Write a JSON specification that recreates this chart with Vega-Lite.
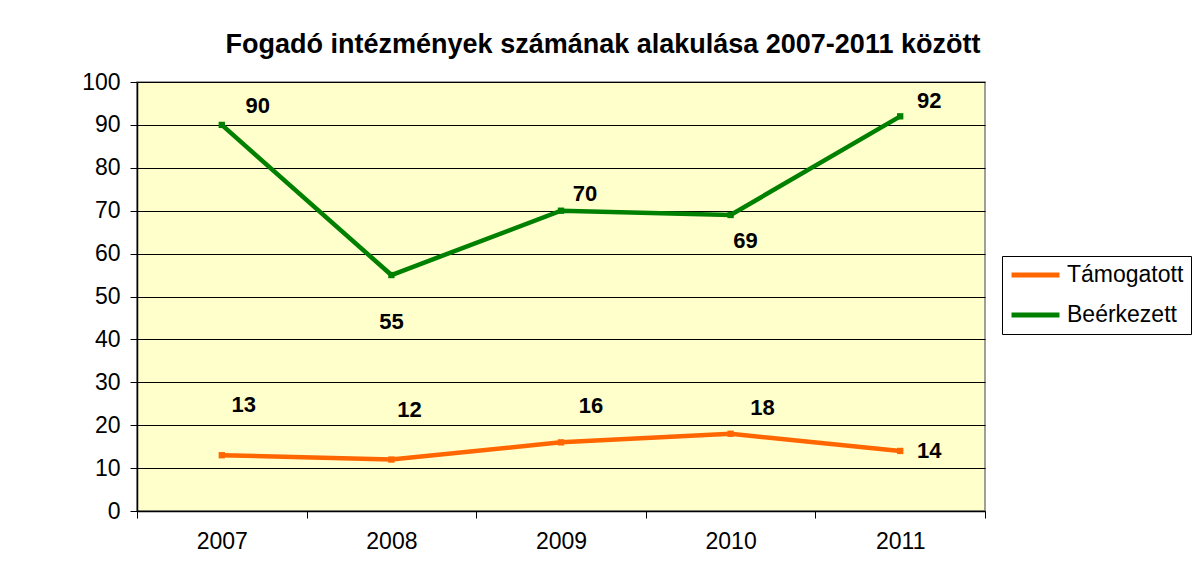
{
  "$schema": "https://vega.github.io/schema/vega-lite/v6.json",
  "width": 848,
  "height": 429,
  "autosize": {"type": "none"},
  "padding": {"left": 137, "top": 82, "right": 207, "bottom": 58},
  "background": "white",
  "title": {
    "text": "Fogadó intézmények számának alakulása 2007-2011 között",
    "font": "Liberation Sans",
    "fontSize": 27,
    "fontWeight": "bold",
    "color": "black",
    "anchor": "middle",
    "dx": 42,
    "offset": 12
  },
  "config": {
    "view": {"fill": "#FFFFCC", "stroke": "#808080", "strokeWidth": 1.5},
    "font": "Liberation Sans",
    "axis": {
      "labelFont": "Liberation Sans",
      "labelFontSize": 23,
      "labelColor": "black",
      "domainColor": "black",
      "domainWidth": 1.5,
      "tickColor": "black",
      "tickSize": 7,
      "title": null
    }
  },
  "data": {
    "values": [
      {"year": "2007", "series": "Támogatott", "value": 13},
      {"year": "2008", "series": "Támogatott", "value": 12},
      {"year": "2009", "series": "Támogatott", "value": 16},
      {"year": "2010", "series": "Támogatott", "value": 18},
      {"year": "2011", "series": "Támogatott", "value": 14},
      {"year": "2007", "series": "Beérkezett", "value": 90},
      {"year": "2008", "series": "Beérkezett", "value": 55},
      {"year": "2009", "series": "Beérkezett", "value": 70},
      {"year": "2010", "series": "Beérkezett", "value": 69},
      {"year": "2011", "series": "Beérkezett", "value": 92}
    ]
  },
  "encoding": {
    "x": {
      "field": "year",
      "type": "ordinal",
      "scale": {"paddingInner": 0, "paddingOuter": 0},
      "axis": {"labelAngle": 0, "tickBand": "extent", "labelPadding": 12, "grid": false}
    },
    "y": {
      "field": "value",
      "type": "quantitative",
      "scale": {"domain": [0, 100], "nice": false},
      "axis": {"values": [0, 10, 20, 30, 40, 50, 60, 70, 80, 90, 100], "grid": true, "gridColor": "black", "gridWidth": 1, "labelPadding": 10}
    }
  },
  "layer": [
    {
      "mark": {"type": "line", "strokeWidth": 4.5},
      "encoding": {
        "color": {
          "field": "series",
          "type": "nominal",
          "scale": {"domain": ["Támogatott", "Beérkezett"], "range": ["#FF6600", "#008000"]},
          "legend": {
            "title": null,
            "orient": "none",
            "legendX": 865,
            "legendY": 174,
            "labelFontSize": 23,
            "labelColor": "black",
            "labelFont": "Liberation Sans",
            "symbolType": "stroke",
            "symbolSize": 2300,
            "symbolStrokeWidth": 5,
            "clipHeight": 24,
            "strokeColor": "black",
            "padding": 7,
            "rowPadding": 16,
            "labelOffset": 5
          }
        }
      }
    },
    {
      "mark": {"type": "point", "shape": "square", "filled": true, "size": 40, "opacity": 1},
      "encoding": {
        "color": {"field": "series", "type": "nominal", "legend": null}
      }
    },
    {
      "transform": [{"filter": "datum.series == 'Beérkezett' && datum.year == '2007'"}],
      "mark": {"type": "text", "fontSize": 22, "fontWeight": "bold", "color": "black", "dx": 36, "dy": -19},
      "encoding": {"text": {"field": "value", "type": "quantitative"}}
    },
    {
      "transform": [{"filter": "datum.series == 'Beérkezett' && datum.year == '2008'"}],
      "mark": {"type": "text", "fontSize": 22, "fontWeight": "bold", "color": "black", "dx": 0, "dy": 47},
      "encoding": {"text": {"field": "value", "type": "quantitative"}}
    },
    {
      "transform": [{"filter": "datum.series == 'Beérkezett' && datum.year == '2009'"}],
      "mark": {"type": "text", "fontSize": 22, "fontWeight": "bold", "color": "black", "dx": 24, "dy": -17},
      "encoding": {"text": {"field": "value", "type": "quantitative"}}
    },
    {
      "transform": [{"filter": "datum.series == 'Beérkezett' && datum.year == '2010'"}],
      "mark": {"type": "text", "fontSize": 22, "fontWeight": "bold", "color": "black", "dx": 15, "dy": 26},
      "encoding": {"text": {"field": "value", "type": "quantitative"}}
    },
    {
      "transform": [{"filter": "datum.series == 'Beérkezett' && datum.year == '2011'"}],
      "mark": {"type": "text", "fontSize": 22, "fontWeight": "bold", "color": "black", "dx": 29, "dy": -15},
      "encoding": {"text": {"field": "value", "type": "quantitative"}}
    },
    {
      "transform": [{"filter": "datum.series == 'Támogatott' && datum.year == '2007'"}],
      "mark": {"type": "text", "fontSize": 22, "fontWeight": "bold", "color": "black", "dx": 22, "dy": -50},
      "encoding": {"text": {"field": "value", "type": "quantitative"}}
    },
    {
      "transform": [{"filter": "datum.series == 'Támogatott' && datum.year == '2008'"}],
      "mark": {"type": "text", "fontSize": 22, "fontWeight": "bold", "color": "black", "dx": 18, "dy": -50},
      "encoding": {"text": {"field": "value", "type": "quantitative"}}
    },
    {
      "transform": [{"filter": "datum.series == 'Támogatott' && datum.year == '2009'"}],
      "mark": {"type": "text", "fontSize": 22, "fontWeight": "bold", "color": "black", "dx": 30, "dy": -36},
      "encoding": {"text": {"field": "value", "type": "quantitative"}}
    },
    {
      "transform": [{"filter": "datum.series == 'Támogatott' && datum.year == '2010'"}],
      "mark": {"type": "text", "fontSize": 22, "fontWeight": "bold", "color": "black", "dx": 32, "dy": -26},
      "encoding": {"text": {"field": "value", "type": "quantitative"}}
    },
    {
      "transform": [{"filter": "datum.series == 'Támogatott' && datum.year == '2011'"}],
      "mark": {"type": "text", "fontSize": 22, "fontWeight": "bold", "color": "black", "dx": 29, "dy": 0},
      "encoding": {"text": {"field": "value", "type": "quantitative"}}
    }
  ]
}
